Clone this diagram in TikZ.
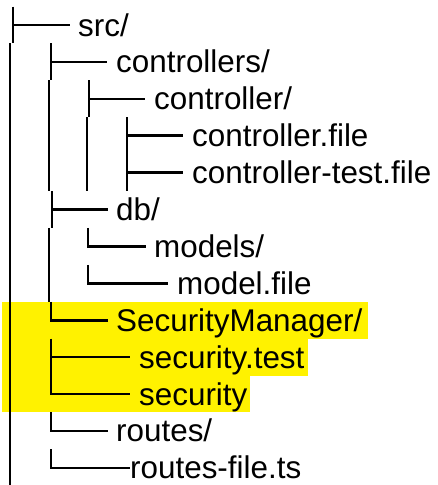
\documentclass[tikz,border=0pt]{standalone}
\usepackage{fontspec}
\setmainfont{Liberation Sans}
\tikzset{
  tree/.style={line width=2.6pt, line cap=butt, line join=miter},
  lbl/.style={anchor=base west, inner sep=0pt, font=\fontsize{31.4}{36}\selectfont},
  hl/.style={fill=yellow, draw=none}
}
\begin{document}
\begin{tikzpicture}[x=1pt,y=-1pt]
\useasboundingbox (0,0) rectangle (438,485);
% highlights
\fill[hl] (2,301.75) rectangle (368,338.65);
\fill[hl] (2,338.65) rectangle (307.5,375.55);
\fill[hl] (2,375.55) rectangle (250,412.45);
% labels
\node[lbl] (n0)  at (78,36)    {src/};
\node[lbl] (n1)  at (116,72.9) {controllers/};
\node[lbl] (n2)  at (154,109.8) {controller/};
\node[lbl] (n3)  at (192,146.7) {controller.file};
\node[lbl] (n4)  at (192,183.6) {controller-test.file};
\node[lbl] (n5)  at (116,220.5) {db/};
\node[lbl] (n6)  at (154,257.4) {models/};
\node[lbl] (n7)  at (177,294.3) {model.file};
\node[lbl] (n8)  at (116,331.2) {SecurityManager/};
\node[lbl] (n9)  at (139,368.1) {security.test};
\node[lbl] (n10) at (139,405)   {security};
\node[lbl] (n11) at (116,441.9) {routes/};
\node[lbl] (n12) at (130,478.8) {routes-file.ts};
% tree lines
% column 1
\draw[tree] (13,6.55) -- (13,43.45);
\draw[tree] (13,25) -- (70,25);
\draw[tree] (10,43.45) -- (10,485);
% column 2
\draw[tree] (51,43.45) -- (51,80.35);
\draw[tree] (51,61.9) -- (107,61.9);
\draw[tree] (49,80.35) -- (49,191.05);
\draw[tree] (52,191.05) -- (52,227.95);
\draw[tree] (52,209.5) -- (108,209.5);
\draw[tree] (49,227.95) -- (49,301.75);
\draw[tree] (51,301.75) -- (51,320.2) -- (108,320.2);
\draw[tree] (51,338.65) -- (51,375.55);
\draw[tree] (51,357.1) -- (130,357.1);
\draw[tree] (51,375.55) -- (51,394) -- (130,394);
\draw[tree] (51,412.45) -- (51,430.9) -- (108,430.9);
\draw[tree] (51,449.35) -- (51,467.8) -- (130,467.8);
% column 3
\draw[tree] (89,80.35) -- (89,117.25);
\draw[tree] (89,98.8) -- (145,98.8);
\draw[tree] (87,117.25) -- (87,191.05);
\draw[tree] (88,227.95) -- (88,246.4) -- (146,246.4);
\draw[tree] (88,264.85) -- (88,283.3) -- (168,283.3);
% column 4
\draw[tree] (127,117.25) -- (127,191.05);
\draw[tree] (127,135.7) -- (183,135.7);
\draw[tree] (127,172.6) -- (183,172.6);
\end{tikzpicture}
\end{document}
